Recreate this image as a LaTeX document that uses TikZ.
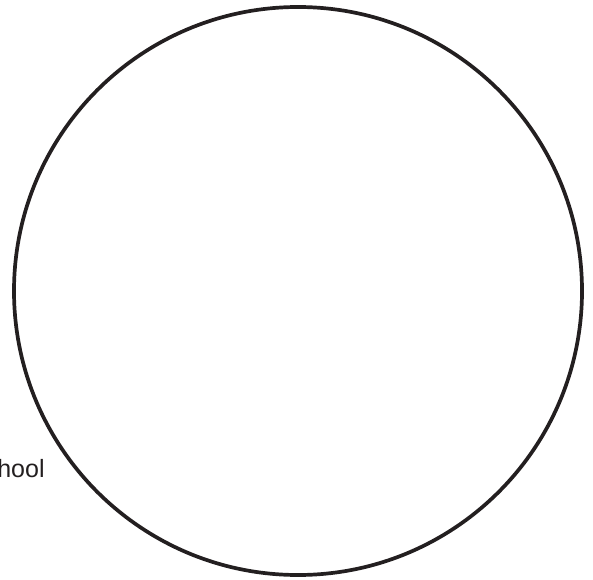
\documentclass[tikz,border=0pt]{standalone}
\usepackage{fontspec}
\setmainfont{Liberation Sans}
\definecolor{ink}{HTML}{231F20}
\begin{document}
\begin{tikzpicture}[x=1bp,y=-1bp,
  ring/.style={draw=ink,line width=3.7bp,circle,minimum size=568bp,inner sep=0pt},
  lbl/.style={text=ink,font=\fontsize{25bp}{28bp}\selectfont,inner sep=0pt,anchor=base east}]
\clip (0,0) rectangle (593,580);
\node[ring] (c) at (298,291) {};
\node[lbl] (t) at (44.8,477) {School};
\end{tikzpicture}
\end{document}
